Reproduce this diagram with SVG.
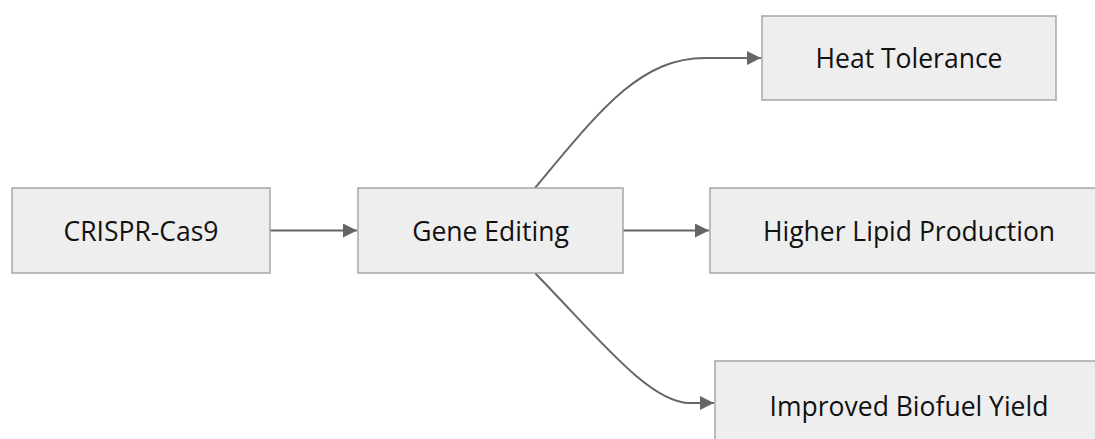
<svg xmlns="http://www.w3.org/2000/svg" width="1095" height="439" viewBox="0 0 1095 439">
<style>
.node rect{fill:#eeeeee;stroke:#a6a6a6;stroke-width:1.5}
.node text{font-family:"Open Sans","Liberation Sans",sans-serif;font-size:26.5px;fill:#111;text-anchor:middle;dominant-baseline:central}
.edge{fill:none;stroke:#666;stroke-width:2}
</style>
<defs>
<marker id="arr" viewBox="0 0 10 10" refX="10" refY="5" markerWidth="7" markerHeight="7" markerUnits="strokeWidth" orient="auto">
<path d="M0,0 L10,5 L0,10 z" fill="#666"/>
</marker>
</defs>
<rect width="1095" height="439" fill="#fff"/>
<g id="connectors">
<path class="edge" d="M270,230.5 L357,230.5" marker-end="url(#arr)"/>
<path class="edge" d="M623,230.5 L709,230.5" marker-end="url(#arr)"/>
<path class="edge" d="M535,188 C600,110 640,58 705,58 L761,58" marker-end="url(#arr)"/>
<path class="edge" d="M535,273 C600,340 650,403 690,403 L714,403" marker-end="url(#arr)"/>
</g>
<g id="node-crispr" class="node"><rect x="12" y="188" width="258" height="85"/><text x="141" y="230.5">CRISPR-Cas9</text></g>
<g id="node-gene" class="node"><rect x="358" y="188" width="265" height="85"/><text x="490.5" y="230.5">Gene Editing</text></g>
<g id="node-heat" class="node"><rect x="762" y="16" width="294" height="84"/><text x="909" y="58">Heat Tolerance</text></g>
<g id="node-lipid" class="node"><rect x="710" y="188" width="398" height="85"/><text x="909" y="230.5">Higher Lipid Production</text></g>
<g id="node-biofuel" class="node"><rect x="715" y="361" width="388" height="85"/><text x="909" y="406">Improved Biofuel Yield</text></g>
</svg>
